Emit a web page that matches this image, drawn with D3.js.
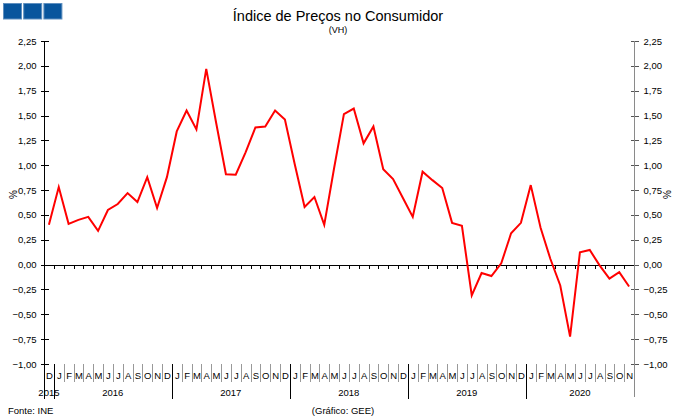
<!DOCTYPE html>
<html>
<head>
<meta charset="utf-8">
<script src="https://cdn.jsdelivr.net/npm/d3@7"></script>
<style>
  html, body { margin: 0; padding: 0; background: #fff; }
  svg { display: block; }
  text { font-family: "Liberation Sans", Arial, sans-serif; fill: #000; }
</style>
</head>
<body>
<svg id="chart" width="680" height="419"></svg>
<script>
// ---- Data ----
const monthLetters = [
  "D",
  "J","F","M","A","M","J","J","A","S","O","N","D",
  "J","F","M","A","M","J","J","A","S","O","N","D",
  "J","F","M","A","M","J","J","A","S","O","N","D",
  "J","F","M","A","M","J","J","A","S","O","N","D",
  "J","F","M","A","M","J","J","A","S","O","N"
];
const years = ["2015","2016","2017","2018","2019","2020"];
const yearFirstMonth = [0, 1, 13, 25, 37, 49];   // index in monthLetters where each year begins
const ipcVH = [
  0.40, 0.78, 0.41, 0.45, 0.48, 0.34, 0.55, 0.61, 0.72, 0.63, 0.88, 0.57,
  0.88, 1.34, 1.55, 1.36, 1.97, 1.43, 0.91, 0.905, 1.13, 1.38, 1.39, 1.55,
  1.46, 1.01, 0.58, 0.68, 0.40, 0.97, 1.515, 1.57, 1.22, 1.39, 0.96, 0.86,
  0.67, 0.48, 0.935, 0.85, 0.77, 0.42, 0.39, -0.31, -0.085, -0.115, 0.013, 0.315,
  0.42, 0.80, 0.37, 0.056, -0.21, -0.725, 0.124, 0.147, -0.007, -0.14, -0.075, -0.22
];
const yTicks = [-1.00, -0.75, -0.50, -0.25, 0.00, 0.25, 0.50, 0.75, 1.00, 1.25, 1.50, 1.75, 2.00, 2.25];
const title = "Índice de Preços no Consumidor";
const subtitle = "(VH)";
const unitLabel = "%";
const sourceText = "Fonte: INE";
const creditText = "(Gráfico: GEE)";

// ---- Layout ----
const mLeft = 44, mRight = 634, mTop = 41, mBottom = 364;
const svg = d3.select("#chart");

const x = d3.scaleBand().domain(d3.range(monthLetters.length)).range([mLeft, mRight]).padding(0);
const y = d3.scaleLinear().domain([-1, 2.25]).range([mBottom, mTop]);
const fmt = v => d3.format(".2f")(v).replace(".", ",");

// ---- Logo squares ----
const logo = svg.append("g");
[0, 1, 2].forEach(i => {
  logo.append("rect")
    .attr("x", 3.5 + i * 20.2).attr("y", 3.5)
    .attr("width", 18).attr("height", 15.5)
    .attr("fill", "#08559d").attr("stroke", "#5f8fbf").attr("stroke-width", 1);
});

// ---- Title ----
svg.append("text").attr("x", 338).attr("y", 21).attr("text-anchor", "middle")
  .style("font-size", "14.5px").text(title);
svg.append("text").attr("x", 338).attr("y", 33).attr("text-anchor", "middle")
  .style("font-size", "9px").text(subtitle);

// ---- Month / year separators (category axis) ----
const sep = svg.append("g").attr("shape-rendering", "crispEdges");
d3.range(1, monthLetters.length).forEach(i => {
  const isYear = yearFirstMonth.includes(i);
  const xx = Math.round(x(i)) + 0.5;
  sep.append("line")
    .attr("x1", xx).attr("x2", xx)
    .attr("y1", mBottom).attr("y2", isYear ? 399 : 382)
    .attr("stroke", isYear ? "#000" : "#999");
});
// month letters
svg.append("g").selectAll("text").data(monthLetters).join("text")
  .attr("x", (d, i) => x(i) + x.bandwidth() / 2 + 0.5)
  .attr("y", 379)
  .attr("text-anchor", "middle")
  .style("font-size", "9.5px")
  .text(d => d);
// year labels
svg.append("g").selectAll("text").data(years).join("text")
  .attr("x", (d, i) => {
    const s = yearFirstMonth[i];
    const e = i + 1 < yearFirstMonth.length ? yearFirstMonth[i + 1] : monthLetters.length;
    return (x(s) + x(e - 1) + x.bandwidth()) / 2;
  })
  .attr("y", 396)
  .attr("text-anchor", "middle")
  .style("font-size", "9.5px")
  .text(d => d);

// ---- Left axis ----
const axL = svg.append("g").attr("transform", `translate(${mLeft + 0.5},0)`)
  .call(d3.axisLeft(y).tickValues(yTicks).tickSize(4).tickFormat(fmt));
axL.select(".domain").remove();
axL.selectAll(".tick line").attr("x1", 4).attr("stroke", "#000").attr("shape-rendering", "crispEdges");
axL.selectAll(".tick text").attr("x", -8).style("font-size", "9.5px")
  .style("font-family", "'Liberation Sans', Arial, sans-serif").attr("fill", "#000");
svg.append("line").attr("x1", mLeft + 0.5).attr("x2", mLeft + 0.5)
  .attr("y1", mTop).attr("y2", 399).attr("stroke", "#000").attr("shape-rendering", "crispEdges");

// ---- Right axis ----
const axR = svg.append("g").attr("transform", `translate(${mRight + 0.5},0)`)
  .call(d3.axisRight(y).tickValues(yTicks).tickSize(4).tickFormat(fmt));
axR.select(".domain").remove();
axR.selectAll(".tick line").attr("x1", -4).attr("stroke", "#555").attr("shape-rendering", "crispEdges");
axR.selectAll(".tick text").attr("x", 9).style("font-size", "9.5px")
  .style("font-family", "'Liberation Sans', Arial, sans-serif").attr("fill", "#000");
svg.append("line").attr("x1", mRight + 0.5).attr("x2", mRight + 0.5)
  .attr("y1", mTop).attr("y2", 397).attr("stroke", "#8a8a8a").attr("shape-rendering", "crispEdges");

// ---- Zero line with month ticks ----
const y0 = Math.round(y(0)) + 0.5;
svg.append("line").attr("x1", mLeft).attr("x2", mRight).attr("y1", y0).attr("y2", y0)
  .attr("stroke", "#000").attr("shape-rendering", "crispEdges");
svg.append("g").attr("shape-rendering", "crispEdges").selectAll("line")
  .data(d3.range(1, monthLetters.length)).join("line")
  .attr("x1", i => Math.round(x(i)) + 0.5).attr("x2", i => Math.round(x(i)) + 0.5)
  .attr("y1", y0).attr("y2", y0 + 3).attr("stroke", "#000");

// ---- Unit labels ----
svg.append("text").attr("transform", `translate(13,${(mTop + mBottom) / 2 - 8}) rotate(-90)`)
  .attr("text-anchor", "middle").attr("dy", "0.35em").style("font-size", "10px").text(unitLabel);
svg.append("text").attr("transform", `translate(667,${(mTop + mBottom) / 2 - 8}) rotate(-90)`)
  .attr("text-anchor", "middle").attr("dy", "0.35em").style("font-size", "10px").text(unitLabel);

// ---- Line ----
const line = d3.line()
  .x((d, i) => x(i) + x.bandwidth() / 2)
  .y(d => y(d));
svg.append("path").datum(ipcVH)
  .attr("d", line)
  .attr("fill", "none")
  .attr("stroke", "#ff0000")
  .attr("stroke-width", 2)
  .attr("stroke-linejoin", "miter");

// ---- Footer ----
svg.append("text").attr("x", 8).attr("y", 414).style("font-size", "9.5px").text(sourceText);
svg.append("text").attr("x", 343).attr("y", 414).attr("text-anchor", "middle").style("font-size", "9.5px").text(creditText);
</script>
</body>
</html>
